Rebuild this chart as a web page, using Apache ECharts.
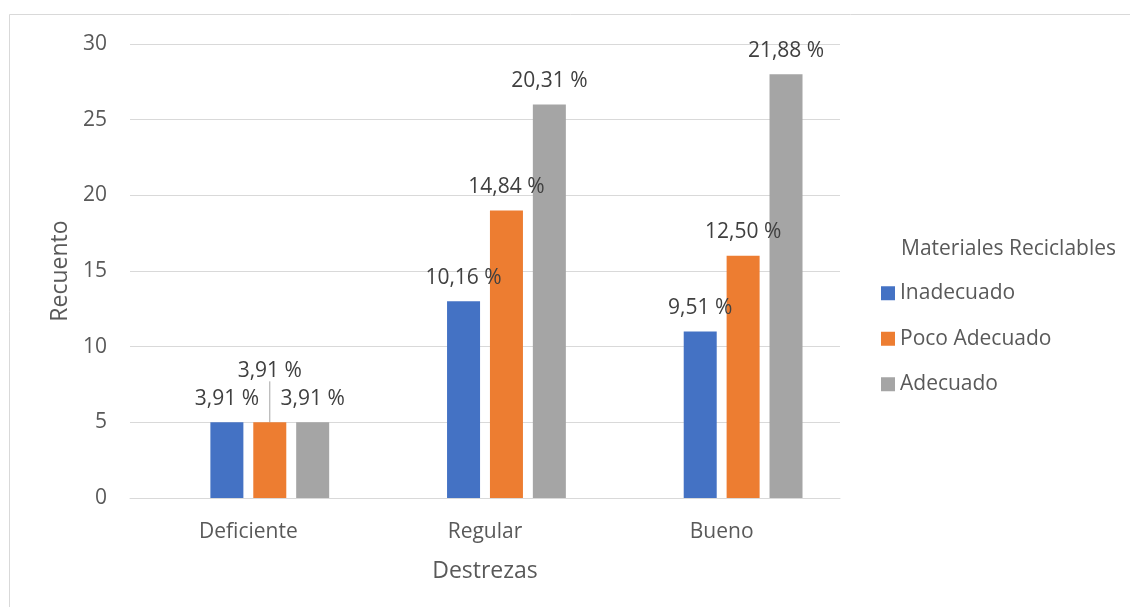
<!DOCTYPE html>
<html>
<head>
<meta charset="utf-8">
<script src="https://cdn.jsdelivr.net/npm/echarts@6/dist/echarts.min.js"></script>
<style>
html,body{margin:0;padding:0;background:#fff;}
#chart{width:1130px;height:607px;}
</style>
</head>
<body>
<div id="chart"></div>
<script>
var categories = ['Deficiente', 'Regular', 'Bueno'];
var seriesNames = ['Inadecuado', 'Poco Adecuado', 'Adecuado'];
var emptySlot = [null, null, null];
var inadecuado = [5, 13, 11];
var pocoAdecuado = [5, 19, 16];
var adecuado = [5, 26, 28];
var inadecuadoPct = ['3,91 %', '10,16 %', '9,51 %'];
var pocoAdecuadoPct = ['3,91 %', '14,84 %', '12,50 %'];
var adecuadoPct = ['3,91 %', '20,31 %', '21,88 %'];
var colors = ['#4472C4', '#ED7D31', '#A5A5A5'];

var FONT = '"Open Sans", "Noto Sans", sans-serif';
var chart = echarts.init(document.getElementById('chart'), null, {renderer: 'canvas'});

function makeSeries(name, values, pcts, color, moveFirst) {
  return {
    name: name,
    type: 'bar',
    barWidth: 33,
    barGap: '30%',
    data: values.map(function (v, i) {
      if (moveFirst && i === 0) {
        return {value: v, labelLine: {show: true, lineStyle: {color: '#A5A5A5', width: 1}}};
      }
      return v;
    }),
    itemStyle: {color: color},
    label: {
      show: true,
      position: 'top',
      distance: 13,
      fontFamily: FONT,
      fontSize: 21,
      color: '#404040',
      formatter: function (p) { return pcts[p.dataIndex]; }
    },
    labelLine: {show: false},
    labelLayout: moveFirst ? function (p) { return p.dataIndex === 0 ? {dy: -28} : {}; } : undefined
  };
}

chart.setOption({
  animation: false,
  backgroundColor: '#fff',
  graphic: [{
    type: 'rect',
    shape: {x: 9.5, y: 14.5, width: 1140, height: 620},
    style: {fill: 'none', stroke: '#D9D9D9', lineWidth: 1},
    silent: true
  }],
  title: {
    text: 'Materiales Reciclables',
    left: 896,
    top: 234,
    textStyle: {fontFamily: FONT, fontSize: 21, fontWeight: 'normal', color: '#595959'}
  },
  legend: {
    orient: 'vertical',
    left: 876,
    top: 276,
    itemWidth: 14,
    itemHeight: 14,
    itemGap: 21,
    icon: 'rect',
    textStyle: {fontFamily: FONT, fontSize: 21, color: '#595959', lineHeight: 24.5},
    data: seriesNames
  },
  grid: {left: 130, right: 290, top: 44, bottom: 109, containLabel: false},
  xAxis: {
    type: 'category',
    data: categories,
    name: 'Destrezas',
    nameLocation: 'middle',
    nameGap: 62,
    nameTextStyle: {fontFamily: FONT, fontSize: 23, color: '#595959'},
    axisLine: {lineStyle: {color: '#D9D9D9', width: 1}},
    axisTick: {show: false},
    axisLabel: {fontFamily: FONT, fontSize: 21, color: '#595959', margin: 24}
  },
  yAxis: {
    type: 'value',
    min: 0,
    max: 30,
    interval: 5,
    name: 'Recuento',
    nameLocation: 'middle',
    nameGap: 56,
    nameTextStyle: {fontFamily: FONT, fontSize: 23, color: '#595959'},
    axisLine: {show: false},
    axisTick: {show: false},
    axisLabel: {fontFamily: FONT, fontSize: 21, color: '#595959', margin: 23},
    splitLine: {lineStyle: {color: '#D9D9D9', width: 1}}
  },
  series: [
    {name: '', type: 'bar', barWidth: 33, barGap: '30%', data: emptySlot, silent: true},
    makeSeries(seriesNames[0], inadecuado, inadecuadoPct, colors[0], false),
    makeSeries(seriesNames[1], pocoAdecuado, pocoAdecuadoPct, colors[1], true),
    makeSeries(seriesNames[2], adecuado, adecuadoPct, colors[2], false)
  ]
});
</script>
</body>
</html>
